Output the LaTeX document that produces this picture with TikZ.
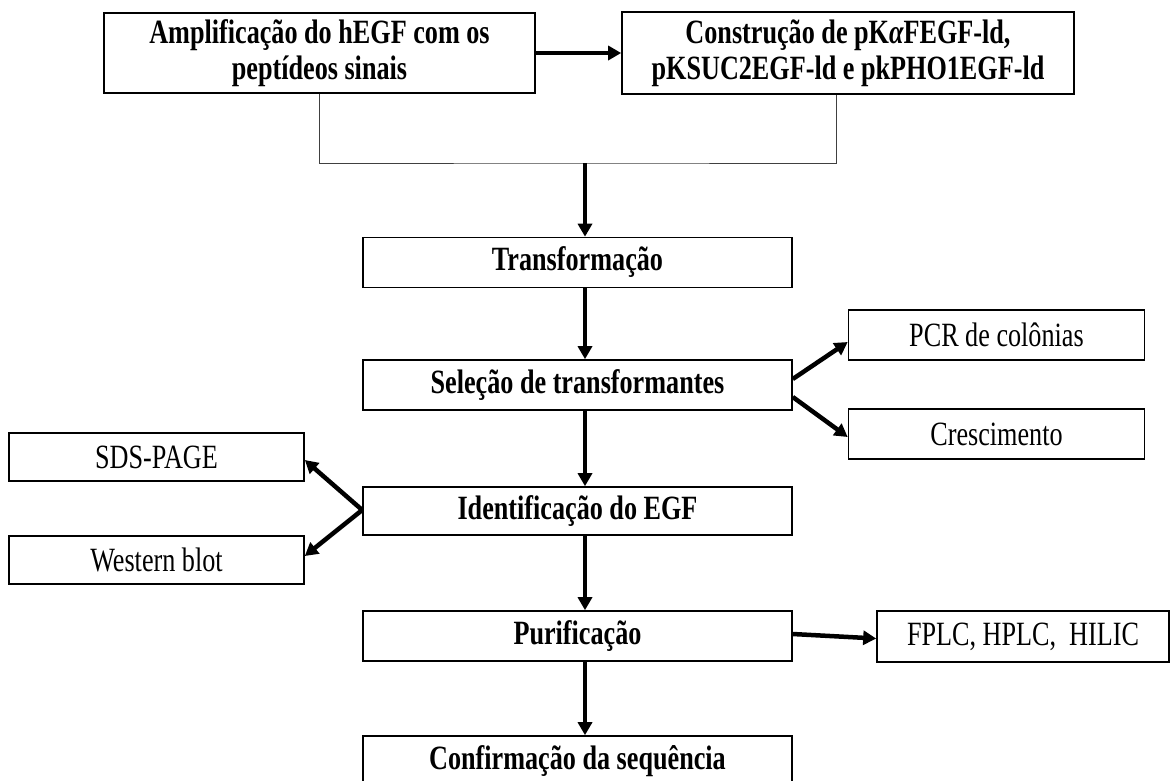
\documentclass[tikz,border=0pt]{standalone}
\usepackage{fontspec}
\setmainfont{Liberation Serif}[FakeStretch=0.77]
\usetikzlibrary{arrows.meta, positioning}

\begin{document}
\begin{tikzpicture}[
  x=1pt, y=-1pt, % pixel-like units, y runs downwards
  box/.style={draw, line width=1.6pt, inner sep=0pt, align=center, font=\fontsize{34}{36}\selectfont},
  stage/.style={box, font=\fontsize{34}{36}\selectfont\bfseries, minimum width=429pt, minimum height=50pt},
  side/.style={box, minimum width=296pt, minimum height=49pt},
  flow/.style={line width=4.5pt, -{Triangle[length=13pt, width=14pt]}},
  joinline/.style={line width=1pt, black!75}
  ]

  \useasboundingbox (0,0) rectangle (1171,780);

  % top row
  \node[stage, minimum width=431pt, minimum height=80pt] (amp) at (319.5,53) {Amplificação do hEGF com os\\peptídeos sinais};
  \node[stage, minimum width=452pt, minimum height=82pt] (cons) at (848,53) {Construção de pK{\itshape α}FEGF-ld,\\pKSUC2EGF-ld e pkPHO1EGF-ld};

  % main column
  \node[stage] (trans) at (577.5,262.5) {Transformação};
  \node[stage] (sel) at (577.5,385) {Seleção de transformantes};
  \node[stage, minimum height=48pt] (ident) at (577.5,511) {Identificação do EGF};
  \node[stage] (puri) at (577.5,636) {Purificação};
  \node[stage] (conf) at (577.5,761) {Confirmação da sequência};

  % side boxes
  \node[side, minimum height=50pt] (pcr) at (996.5,335) {PCR de colônias};
  \node[side, minimum height=50pt] (cresc) at (996.5,434) {Crescimento};
  \node[side, minimum width=295pt, minimum height=48pt] (sds) at (156.5,457) {SDS-PAGE};
  \node[side, minimum width=295pt, minimum height=48pt] (west) at (156.5,560) {Western blot};
  \node[side, minimum width=292pt, minimum height=51pt] (fplc) at (1023,636.5) {FPLC, HPLC, \ HILIC};

  \coordinate (spine) at (585,163);

  \draw[flow] (amp) -- (cons);
  \draw[joinline] (amp.south) |- (spine) -| ([xshift=-12pt]cons.south);

  \draw[flow] (spine) -- (spine |- trans.north);
  \draw[flow] (trans.south -| spine) -- (sel.north -| spine);
  \draw[flow] (sel.south -| spine) -- (ident.north -| spine);
  \draw[flow] (ident.south -| spine) -- (puri.north -| spine);
  \draw[flow] (puri.south -| spine) -- (conf.north -| spine);

  \draw[flow] ([yshift=6pt]sel.east) -- ([yshift=-7pt]pcr.west);
  \draw[flow] ([yshift=-12pt]sel.east) -- ([yshift=-3pt]cresc.west);
  \draw[flow] ([yshift=1pt]ident.west) -- ([yshift=-3pt]sds.east);
  \draw[flow] ([yshift=1pt]ident.west) -- ([yshift=4pt]west.east);
  \draw[flow] ([yshift=2pt]puri.east) -- ([yshift=-2pt]fplc.west);
\end{tikzpicture}
\end{document}
